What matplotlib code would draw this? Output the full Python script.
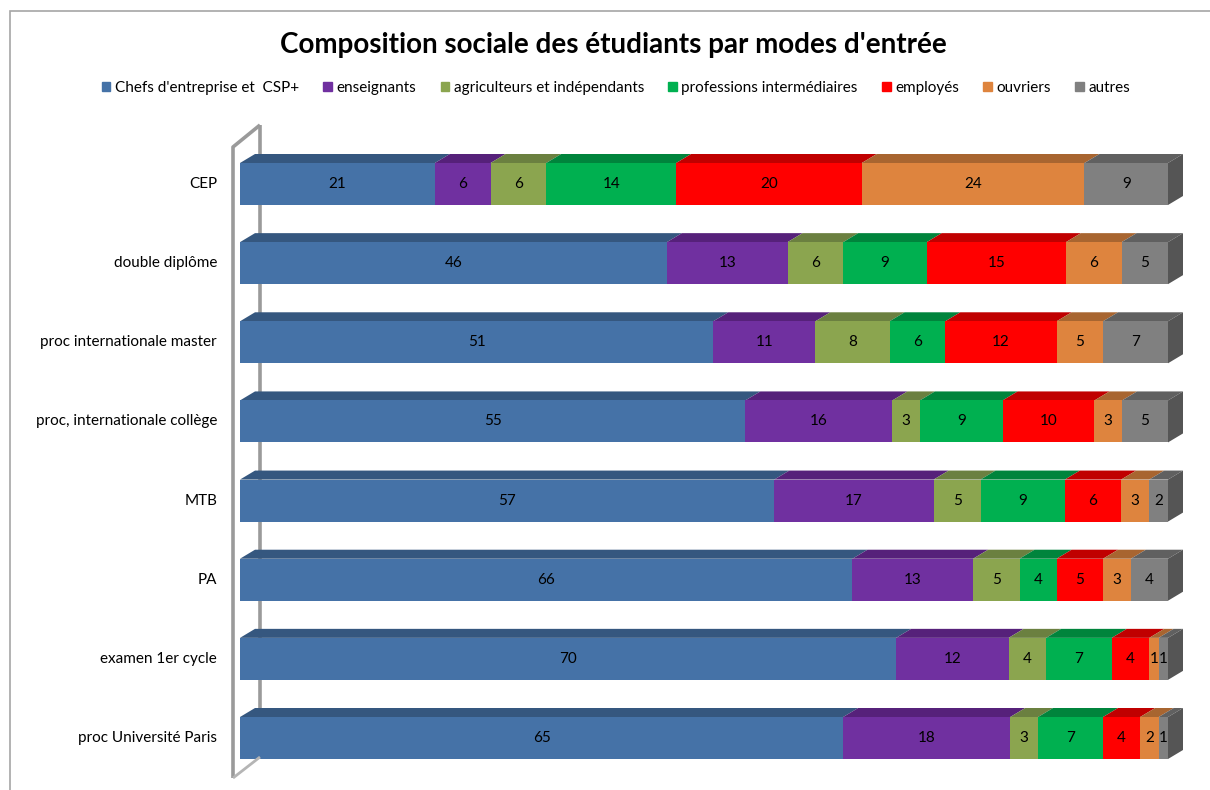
import numpy as np
import matplotlib as mpl
mpl.use('Agg')
from matplotlib import pyplot as plt
from matplotlib.patches import Polygon, Rectangle

plt.rcParams['font.family'] = ['Lato', 'DejaVu Sans']

categories = ["CEP", "double diplôme", "proc internationale master",
              "proc, internationale collège", "MTB", "PA",
              "examen 1er cycle", "proc Université Paris"]
series = ["Chefs d'entreprise et  CSP+", "enseignants",
          "agriculteurs et indépendants", "professions intermédiaires",
          "employés", "ouvriers", "autres"]
chefs = [21, 46, 51, 55, 57, 66, 70, 65]
enseignants = [6, 13, 11, 16, 17, 13, 12, 18]
agriculteurs = [6, 6, 8, 3, 5, 5, 4, 3]
prof_inter = [14, 9, 6, 9, 9, 4, 7, 7]
employes = [20, 15, 12, 10, 6, 5, 4, 4]
ouvriers = [24, 6, 5, 3, 3, 3, 1, 2]
autres = [9, 5, 7, 5, 2, 4, 1, 1]

front_colors = ['#4572A7', '#7030A0', '#8BA54F', '#00B050', '#FF0000', '#DE843E', '#808080']
top_colors = ['#35577F', '#56217A', '#6B8040', '#00843C', '#C00000', '#A86530', '#606060']
side_color = '#555555'

W, H, DPI = 1210, 790, 100
fig = plt.figure(figsize=(W / DPI, H / DPI), dpi=DPI)

# chart frame
fig.patches.append(Rectangle((10 / W, -0.1), 1.2, 1 - 11 / H + 0.1, transform=fig.transFigure,
                             fill=False, edgecolor='#a6a6a6', lw=1.2))

# axes: x 0..100 maps px 240..1168, rows centred at 184 + 79.14*i
x0px, x1px = 240, 1168
ytop_px, ybot_px = 120, 780
ax = fig.add_axes([x0px / W, 1 - ybot_px / H, (x1px - x0px) / W, (ybot_px - ytop_px) / H])
step = (738 - 184) / 7
ax.set_xlim(0, 100)
ax.set_ylim(7 + (ybot_px - 738) / step, -(184 - ytop_px) / step)
ax.axis('off')

# 3D wall lines (pixel coords)
def wall_line(xs, ys, z, **kw):
    ax.plot([x / W for x in xs], [1 - y / H for y in ys], transform=fig.transFigure,
            clip_on=False, zorder=z, solid_capstyle='butt', **kw)

wall_line([260, 260], [125, 757], 1, color='#9a9a9a', lw=2.6)
wall_line([233, 233, 260], [778, 147, 125], 5, color='#9a9a9a', lw=2.6)
wall_line([233, 260], [778, 757], 5, color='#b5b5b5', lw=2.0)

data = np.array([chefs, enseignants, agriculteurs, prof_inter, employes, ouvriers, autres], dtype=float)
totals = data.sum(axis=0)
widths = data / totals * 100
lefts = np.vstack([np.zeros(len(categories)), np.cumsum(widths, axis=0)[:-1]])
ypos = np.arange(len(categories))
bh = 42 / step
dx = 15 / (x1px - x0px) * 100
dy = 9 / step

for k in range(len(series)):
    ax.barh(ypos, widths[k], left=lefts[k], height=bh, color=front_colors[k],
            label=series[k], zorder=3)
    for i in ypos:
        l, w = lefts[k][i], widths[k][i]
        yt = i - bh / 2
        ax.add_patch(Polygon([(l, yt), (l + w, yt), (l + w + dx, yt - dy), (l + dx, yt - dy)],
                             closed=True, facecolor=top_colors[k], edgecolor='none',
                             zorder=2, clip_on=False))
        ax.text(l + w / 2, i, str(int(data[k][i])), ha='center', va='center',
                fontsize=11, color='black', zorder=6)

for i in ypos:
    yt, yb = i - bh / 2, i + bh / 2
    ax.add_patch(Polygon([(100, yt), (100, yb), (100 + dx, yb - dy), (100 + dx, yt - dy)],
                         closed=True, facecolor=side_color, edgecolor='none',
                         zorder=2, clip_on=False))

for i, c in enumerate(categories):
    ax.text(-23 / (x1px - x0px) * 100, i, c, ha='right', va='center', fontsize=11)

fig.text(613 / W, 1 - 45 / H, "Composition sociale des étudiants par modes d'entrée",
         ha='center', va='center', fontsize=20, fontweight='bold')

handles = [Rectangle((0, 0), 1, 1, color=c) for c in front_colors]
fig.legend(handles, series, loc='center', bbox_to_anchor=(616 / W, 1 - 88 / H), ncol=7,
           frameon=False, fontsize=11, handlelength=0.55, handleheight=0.55,
           handletextpad=0.3, columnspacing=1.6)

fig.savefig('out.png', dpi=DPI)
